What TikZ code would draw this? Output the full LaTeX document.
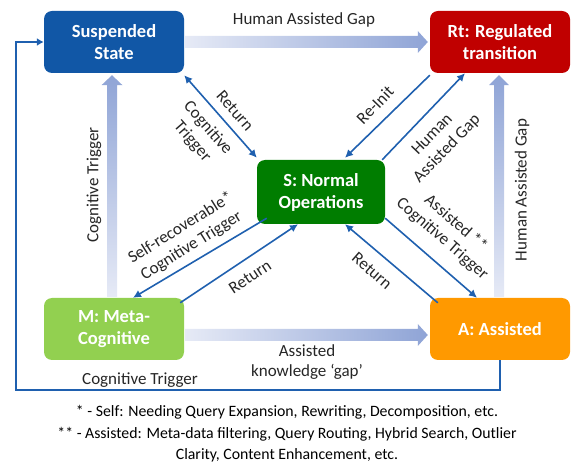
\documentclass[tikz,border=0pt]{standalone}
\usepackage{fontspec}
\setmainfont{Carlito}
\usetikzlibrary{arrows.meta, positioning, calc}
\definecolor{suspendBlue}{RGB}{17, 87, 166}
\definecolor{regulatedRed}{RGB}{192, 0, 0}
\definecolor{normalGreen}{RGB}{0, 125, 0}
\definecolor{metaGreen}{RGB}{146, 208, 80}
\definecolor{assistOrange}{RGB}{255, 153, 0}
\definecolor{linkBlue}{RGB}{31, 96, 175}
\definecolor{fatHead}{RGB}{143, 164, 214}
\definecolor{fatTail}{RGB}{230, 234, 246}
\definecolor{labelGray}{RGB}{38, 38, 38}
\tikzset{
    % Base style for all state boxes
    stateBox/.style={
        rectangle,
        rounded corners=8pt,
        minimum width=140pt,
        minimum height=62pt,
        align=center,
        text=white,
        font=\fontsize{18.5}{22}\selectfont\bfseries,
        draw=none
    },
    % Specific styles
    suspendStage/.style={stateBox, fill=suspendBlue},
    regulatedStage/.style={stateBox, fill=regulatedRed},
    normalStage/.style={stateBox, fill=normalGreen, minimum width=128pt, minimum height=64pt},
    metaStage/.style={stateBox, fill=metaGreen},
    assistStage/.style={stateBox, fill=assistOrange},
    % Arrow and label styles
    link/.style={-{Latex[length=8pt, width=8pt]}, line width=1.6pt, draw=linkBlue},
    linkBoth/.style={{Latex[length=8pt, width=8pt]}-{Latex[length=8pt, width=8pt]}, line width=1.6pt, draw=linkBlue},
    loopLine/.style={-{Latex[length=7pt, width=8pt]}, line width=2pt, draw=linkBlue},
    edgeLabel/.style={font=\fontsize{17}{20.5}\selectfont, text=labelGray, align=center, inner sep=0pt},
    noteText/.style={font=\fontsize{15.8}{21.5}\selectfont, text=black, align=center, inner sep=0pt}
}

\begin{document}
\begin{tikzpicture}[x=1pt, y=-1pt]
    \useasboundingbox (0,0) rectangle (574,465);

    % --- STATES ---
    \node (susp)   [suspendStage]   at (114,42)  {Suspended\\State};
    \node (reg)    [regulatedStage] at (500,42)  {Rt: Regulated\\transition};
    \node (normal) [normalStage]    at (321,192) {S: Normal\\Operations};
    \node (meta)   [metaStage]      at (114,329) {M: Meta-\\Cognitive};
    \node (assist) [assistStage]    at (500,329) {A: Assisted};

    % --- Wide shaded arrows ---
    % Suspended -> Regulated
    \shade [left color=fatTail, right color=fatHead]
        ($(susp.east)+(1,-6)$) -- ($(reg.west)+(-12,-6)$) -- ($(reg.west)+(-12,-11)$)
        -- ($(reg.west)+(-2,0)$) -- ($(reg.west)+(-12,11)$) -- ($(reg.west)+(-12,6)$)
        -- ($(susp.east)+(1,6)$) -- cycle;
    % Meta -> Assisted
    \shade [left color=fatTail, right color=fatHead]
        ($(meta.east)+(1,0)$) -- ($(assist.west)+(-12,0)$) -- ($(assist.west)+(-12,-5)$)
        -- ($(assist.west)+(-2,6)$) -- ($(assist.west)+(-12,17)$) -- ($(assist.west)+(-12,12)$)
        -- ($(meta.east)+(1,12)$) -- cycle;
    % Meta -> Suspended
    \shade [bottom color=fatTail, top color=fatHead]
        ($(meta.north)+(-7,-1)$) -- ($(susp.south)+(-7,12)$) -- ($(susp.south)+(-12.5,12)$)
        -- ($(susp.south)+(-2,2)$) -- ($(susp.south)+(8.5,12)$) -- ($(susp.south)+(3,12)$)
        -- ($(meta.north)+(3,-1)$) -- cycle;
    % Assisted -> Regulated
    \shade [bottom color=fatTail, top color=fatHead]
        ($(assist.north)+(-6,-1)$) -- ($(reg.south)+(-6,12)$) -- ($(reg.south)+(-11,12)$)
        -- ($(reg.south)+(-1,2)$) -- ($(reg.south)+(9,12)$) -- ($(reg.south)+(4,12)$)
        -- ($(assist.north)+(4,-1)$) -- cycle;

    \node (lblTop)   [edgeLabel] at (304,20) {Human Assisted Gap};
    \node (lblLeft)  [edgeLabel, rotate=90] at (94,185) {Cognitive Trigger};
    \node (lblRight) [edgeLabel, rotate=90] at (522,190) {Human Assisted Gap};
    \node (lblGap)   [edgeLabel] at (307,362) {Assisted\\knowledge `gap'};

    % --- Thin links ---
    \draw [linkBoth] ($(susp.south east)+(0,2)$) -- ($(normal.north west)+(0,-2)$);
    \draw [link] ($(reg.south west)+(0,2)$) -- ($(normal.north)+(24,-2)$);
    \draw [link] ($(normal.north east)+(-3,0)$) -- ($(reg.south)+(-35,0)$);
    \draw [link] ($(normal.south west)+(10,-6)$) -- ($(meta.north)+(19,0)$);
    \draw [link] ($(meta.north east)+(-4,5)$) -- ($(normal.south)+(-23,0)$);
    \draw [link] ($(normal.south east)+(0,-6)$) -- ($(assist.north)+(-23,0)$);
    \draw [link] ($(assist.north west)+(8,5)$) -- ($(normal.south)+(24,0)$);

    \node (lblRet1)   [edgeLabel, rotate=-48.7] at (235,111) {Return};
    \node (lblCog1)   [edgeLabel, rotate=-48.7] at (200,135) {Cognitive\\Trigger};
    \node (lblReinit) [edgeLabel, rotate=46]    at (375,105) {Re-Init};
    \node (lblHag)    [edgeLabel, rotate=46]    at (440,142) {Human\\Assisted Gap};
    \node (lblSelf)   [edgeLabel, rotate=32]    at (186,237) {Self-recoverable*\\Cognitive Trigger};
    \node (lblRet2)   [edgeLabel, rotate=33.5]  at (250,277) {Return};
    \node (lblAssist) [edgeLabel, rotate=-41]   at (449,231) {Assisted **\\Cognitive Trigger};
    \node (lblRet3)   [edgeLabel, rotate=-41]   at (372,271) {Return};

    % --- Outer loop back to Suspended ---
    \coordinate (loopA) at (500,390);
    \coordinate (loopB) at (16,390);
    \coordinate (loopC) at (16,42);
    \draw [loopLine] (assist.south) -- (loopA) -- (loopB) -- (loopC) -- (susp.west);
    \node (lblLoop) [edgeLabel] at (140,380) {Cognitive Trigger};

    % --- Notes ---
    \node (note) [noteText] at (287,434) {* - Self: Needing Query Expansion, Rewriting, Decomposition, etc.\\
        ** - Assisted: Meta-data filtering, Query Routing, Hybrid Search, Outlier\\
        Clarity, Content Enhancement, etc.};

\end{tikzpicture}
\end{document}
